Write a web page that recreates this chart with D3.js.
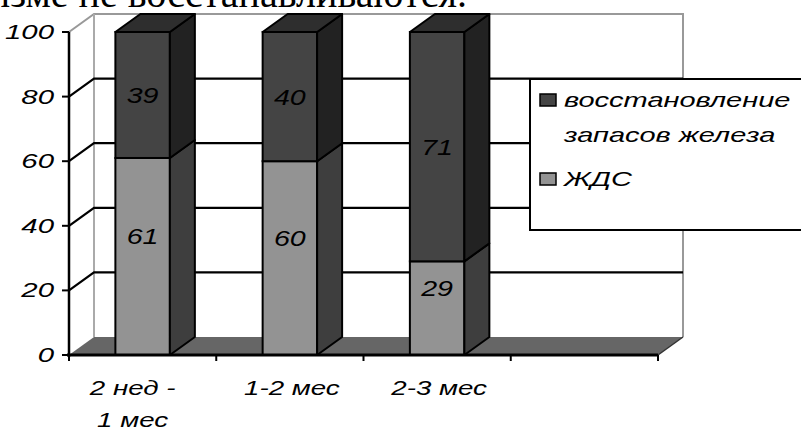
<!DOCTYPE html>
<html><head><meta charset="utf-8">
<script src="https://cdn.jsdelivr.net/npm/d3@7"></script>
<style>html,body{margin:0;padding:0;background:#fff;overflow:hidden}</style>
</head><body>
<svg id="c" width="801" height="430"></svg>
<script>
const categories = [["2 нед -", "1 мес"], ["1-2 мес"], ["2-3 мес"], [""]];
const seriesNames = ["ЖДС", ["восстановление", "запасов железа"]];
const zhds = [61, 60, 29];
const restore = [39, 40, 71];
const yTicks = [0, 20, 40, 60, 80, 100];
const headerText = "организме не восстанавливаются.";

const svg = d3.select("#c");
const DX = 25, DY = -18;
const x = d3.scaleBand().domain(d3.range(categories.length)).range([69, 658]).padding(0);
const y = d3.scaleLinear().domain([0, 100]).range([355, 32]);
const barW = x.bandwidth() * 0.37;

function txt(g, s, px, py, anchor, opts = {}) {
  return g.append("text").attr("transform", `translate(${px},${py}) scale(${opts.sx || 1.2},1)`)
    .attr("text-anchor", anchor).attr("font-family", opts.family || "Liberation Sans, Arial, sans-serif")
    .attr("font-style", opts.style || "italic").attr("font-size", opts.size || 21)
    .attr("fill", "#000").text(s);
}

// header text (clipped at top, as in the source page)
txt(svg, headerText, 467, 7, "end", {family: "Liberation Serif, Times New Roman, serif", style: "normal", size: 40, sx: 1.0});

const x0 = x.range()[0], x1 = x.range()[1];
// floor
const floor = [[x0, y(0)], [x1, y(0)], [x1 + DX, y(0) + DY], [x0 + DX, y(0) + DY]];
svg.append("polygon").attr("points", floor.map(p => p.join(",")).join(" ")).attr("fill", "#666");
// wall edges (gray)
svg.append("path").attr("d", `M${x0},${y(100)}L${x0 + DX},${y(100) + DY}L${x1 + DX},${y(100) + DY}L${x1 + DX},${y(0) + DY}`)
  .attr("fill", "none").attr("stroke", "#999").attr("stroke-width", 2);
svg.append("line").attr("x1", x0 + DX).attr("x2", x0 + DX).attr("y1", y(100) + DY).attr("y2", y(0) + DY)
  .attr("stroke", "#aaa").attr("stroke-width", 2);
// gridlines
yTicks.filter(t => t > 0 && t < 100).forEach(t => {
  svg.append("path").attr("d", `M${x0},${y(t)}L${x0 + DX},${y(t) + DY}L${x1 + DX},${y(t) + DY}`)
    .attr("fill", "none").attr("stroke", "#000").attr("stroke-width", 2.2);
});
// floor right edge
svg.append("line").attr("x1", x1).attr("y1", y(0)).attr("x2", x1 + DX).attr("y2", y(0) + DY)
  .attr("stroke", "#333").attr("stroke-width", 1.5);

// bars
const stacks = categories.slice(0, zhds.length).map((c, i) => [
  {lo: 0, hi: zhds[i], front: "#939393", side: "#3e3e3e", top: "#555", v: zhds[i], s: 0},
  {lo: zhds[i], hi: zhds[i] + restore[i], front: "#444", side: "#222", top: "#2e2e2e", v: restore[i], s: 1}
]);
stacks.forEach((segs, i) => {
  const bx = x(i) + (x.bandwidth() - barW) / 2;
  const g = svg.append("g");
  segs.forEach((sg, k) => {
    const yt = y(sg.hi), yb = y(sg.lo);
    g.append("rect").attr("x", bx).attr("y", yt).attr("width", barW).attr("height", yb - yt)
      .attr("fill", sg.front).attr("stroke", "#000").attr("stroke-width", 2);
    g.append("polygon").attr("points", [[bx + barW, yt], [bx + barW + DX, yt + DY], [bx + barW + DX, yb + DY], [bx + barW, yb]].map(p => p.join(",")).join(" "))
      .attr("fill", sg.side).attr("stroke", "#000").attr("stroke-width", 2).attr("stroke-linejoin", "round");
    if (k === segs.length - 1) {
      g.append("polygon").attr("points", [[bx, yt], [bx + DX, yt + DY], [bx + barW + DX, yt + DY], [bx + barW, yt]].map(p => p.join(",")).join(" "))
        .attr("fill", sg.top).attr("stroke", "#000").attr("stroke-width", 2).attr("stroke-linejoin", "round");
    }
  });
  segs.forEach(sg => {
    const ly = y((sg.lo + sg.hi) / 2) + (sg.s === 0 ? -12 : 8);
    txt(svg, sg.v, bx + barW / 2, ly, "middle", {size: 22, sx: 1.3});
  });
});

// y axis
svg.append("line").attr("x1", x0).attr("x2", x0).attr("y1", y(100)).attr("y2", y(0) + 2).attr("stroke", "#000").attr("stroke-width", 2.5);
yTicks.forEach(t => {
  svg.append("line").attr("x1", x0 - 7).attr("x2", x0).attr("y1", y(t)).attr("y2", y(t)).attr("stroke", "#000").attr("stroke-width", 2);
  txt(svg, t, 54, y(t) + 7, "end", {size: 21, sx: 1.4});
});
// x axis
svg.append("line").attr("x1", x0 - 2).attr("x2", x1).attr("y1", y(0)).attr("y2", y(0)).attr("stroke", "#000").attr("stroke-width", 3);
d3.range(categories.length + 1).forEach(i => {
  const xx = i < categories.length ? x(i) : x1;
  svg.append("line").attr("x1", xx).attr("x2", xx).attr("y1", y(0)).attr("y2", y(0) + 6).attr("stroke", "#000").attr("stroke-width", 2);
});
categories.forEach((c, i) => {
  c.forEach((line, j) => {
    txt(svg, line, x(i) + x.bandwidth() / 2 - (c.length > 1 ? 10 : -2), 395 + j * 32, "middle", {size: 21, sx: 1.32});
  });
});

// legend
svg.append("rect").attr("x", 530).attr("y", 79).attr("width", 290).attr("height", 151)
  .attr("fill", "#fff").attr("stroke", "#000").attr("stroke-width", 2);
const legItems = [
  {name: seriesNames[1], color: "#444", y: 94},
  {name: [seriesNames[0]], color: "#939393", y: 173}
];
legItems.forEach(it => {
  svg.append("rect").attr("x", 540).attr("y", it.y).attr("width", 16).attr("height", 12)
    .attr("fill", it.color).attr("stroke", "#000").attr("stroke-width", 1.5);
  it.name.forEach((line, j) => txt(svg, line, 564, it.y + 13 + j * 35, "start", {size: 20, sx: 1.45}));
});
</script>
</body></html>
